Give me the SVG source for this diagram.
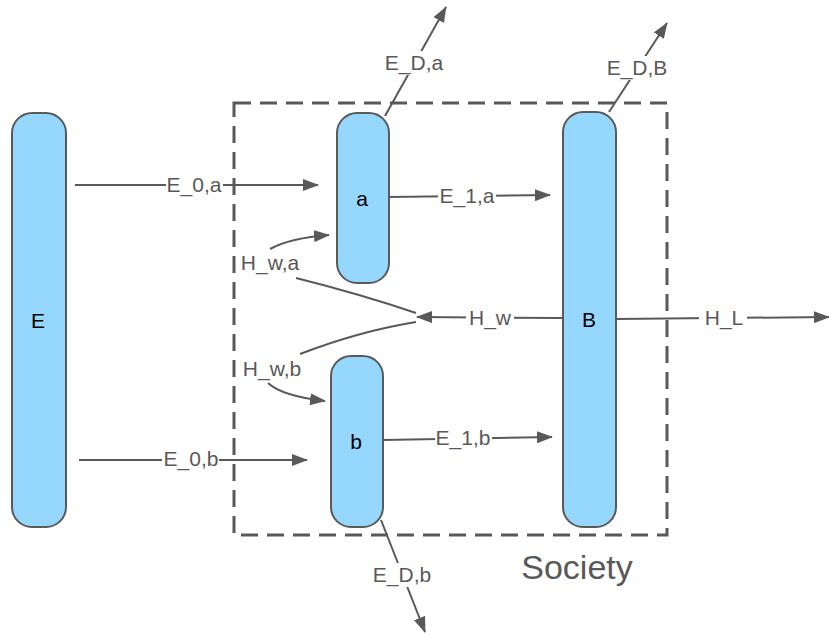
<svg xmlns="http://www.w3.org/2000/svg" width="829" height="635" viewBox="0 0 829 635">
  <defs>
    <marker id="arrow" markerUnits="userSpaceOnUse" markerWidth="16" markerHeight="12" refX="15" refY="6" orient="auto">
      <path d="M0,0 L16,6 L0,12 Z" fill="#595959"/>
    </marker>
    <style>
      .node rect { fill: #95d7fd; stroke: #5a5a5a; stroke-width: 2; }
      .node text { font-family: "Liberation Sans", Arial, sans-serif; font-size: 21px; fill: #000; text-anchor: middle; }
      .edge { fill: none; stroke: #595959; stroke-width: 2; }
      .lbl { font-family: "Liberation Sans", Arial, sans-serif; font-size: 21px; fill: #595959; text-anchor: middle; }
      .bg { fill: #fff; }
      .frame { fill: none; stroke: #595959; stroke-width: 3; stroke-dasharray: 17 9; }
    </style>
  </defs>
  <rect width="829" height="635" fill="#fff"/>

  <!-- flows between nodes -->
  <g id="connectors">
    <path class="edge" d="M75,185 L318,185" marker-end="url(#arrow)"/>
    <path class="edge" d="M389,197 L550,195" marker-end="url(#arrow)"/>
    <path class="edge" d="M79,460 L307,460" marker-end="url(#arrow)"/>
    <path class="edge" d="M383,440 L552,437" marker-end="url(#arrow)"/>
    <path class="edge" d="M562,318 L417,317" marker-end="url(#arrow)"/>
    <path class="edge" d="M616,319 L829,317" marker-end="url(#arrow)"/>
    <path class="edge" d="M296,278 Q360,294 416,313"/>
    <path class="edge" d="M300,354 Q360,331 416,322"/>
    <path class="edge" d="M270,249 Q290,238 329,235" marker-end="url(#arrow)"/>
    <path class="edge" d="M268,383 Q282,396 325,401" marker-end="url(#arrow)"/>
    <path class="edge" d="M385,116 L446,7" marker-end="url(#arrow)"/>
    <path class="edge" d="M609,112 L667,23" marker-end="url(#arrow)"/>
    <path class="edge" d="M381,520 L425,632" marker-end="url(#arrow)"/>

    <!-- label backgrounds and labels -->
    <rect class="bg" x="166" y="174" width="57" height="22"/>
    <text class="lbl" x="194" y="192">E_0,a</text>
    <rect class="bg" x="438" y="185" width="58" height="22"/>
    <text class="lbl" x="467" y="203">E_1,a</text>
    <rect class="bg" x="162" y="448" width="57" height="22"/>
    <text class="lbl" x="191" y="466">E_0,b</text>
    <rect class="bg" x="435" y="427" width="57" height="22"/>
    <text class="lbl" x="463" y="445">E_1,b</text>
    <rect class="bg" x="466" y="307" width="48" height="22"/>
    <text class="lbl" x="490" y="325">H_w</text>
    <rect class="bg" x="699" y="307" width="48" height="22"/>
    <text class="lbl" x="724" y="325">H_L</text>
    <rect class="bg" x="240" y="252" width="61" height="22"/>
    <text class="lbl" x="270" y="270">H_w,a</text>
    <rect class="bg" x="241" y="358" width="62" height="22"/>
    <text class="lbl" x="272" y="376">H_w,b</text>
    <rect class="bg" x="383" y="51" width="62" height="24"/>
    <text class="lbl" x="414" y="70">E_D,a</text>
    <rect class="bg" x="604" y="56" width="66" height="24"/>
    <text class="lbl" x="637" y="75">E_D,B</text>
    <rect class="bg" x="370" y="563" width="64" height="24"/>
    <text class="lbl" x="402" y="582">E_D,b</text>
  </g>

  <!-- society boundary -->
  <g id="society">
    <rect class="frame" x="234" y="103" width="433" height="432"/>
    <text x="577" y="579" font-family="Liberation Sans, Arial, sans-serif" font-size="34" fill="#595959" text-anchor="middle">Society</text>
  </g>

  <g id="node-E" class="node">
    <rect x="12" y="113" width="54" height="414" rx="20" ry="20"/>
    <text x="38" y="328">E</text>
  </g>
  <g id="node-a" class="node">
    <rect x="337" y="113" width="52" height="170" rx="20" ry="20"/>
    <text x="362" y="206">a</text>
  </g>
  <g id="node-b" class="node">
    <rect x="331" y="356" width="52" height="171" rx="20" ry="20"/>
    <text x="356" y="449">b</text>
  </g>
  <g id="node-B" class="node">
    <rect x="563" y="112" width="53" height="415" rx="20" ry="20"/>
    <text x="589" y="327">B</text>
  </g>
</svg>
